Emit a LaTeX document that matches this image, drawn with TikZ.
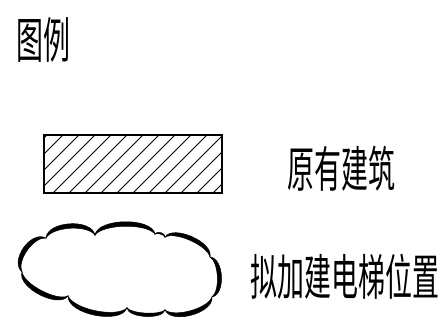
\documentclass[tikz,border=0pt]{standalone}
\usepackage{fontspec}
\newfontfamily\cjk[FakeStretch=0.55]{Noto Sans CJK SC}
\usetikzlibrary{calc}
\newcommand\cloudarc[4]{%
  \fill[cloudink] (#1) .. controls ($(#1)!0.05!(#2)!#3!90:(#2)$) and ($(#1)!0.95!(#2)!#3!90:(#2)$) .. (#2)
    .. controls ($(#1)!0.85!(#2)!#4!90:(#2)$) and ($(#1)!0.15!(#2)!#4!90:(#2)$) .. (#1) -- cycle;}
\tikzset{
  label/.style={font=\cjk\fontsize{49}{49}\selectfont, inner sep=0pt, anchor=center},
  frame/.style={draw=black, line width=1.6pt},
  hatch/.style={draw=black, line width=0.9pt},
  cloudink/.style={black, draw=black, line width=0.5pt},
}
\begin{document}
\begin{tikzpicture}[x=1pt,y=-1pt]
\useasboundingbox (0,0) rectangle (448,334);
% title
\node[label] (title) at (43.5,39.5) {图例};
% hatched rectangle
\begin{scope}
  \clip (44,135) rectangle (222,193);
  \foreach \k in {0,...,15} {
    \draw[hatch] ({182+16*\k-135},135) -- ({182+16*\k-193},193);
  }
\end{scope}
\node[frame, minimum width=178pt, minimum height=58pt, inner sep=0pt] (exist) at (133,164) {};
\node[label] (existtext) at (341.5,169) {原有建筑};
% cloud
\coordinate (A) at (22,272);
\coordinate (B) at (46,238);
\coordinate (C) at (95,235);
\coordinate (D) at (155,234);
\coordinate (E) at (165,237);
\coordinate (F) at (210,257);
\coordinate (G) at (212,297);
\coordinate (H) at (165,310);
\coordinate (I) at (127,308);
\coordinate (J) at (68,296);
\cloudarc{A}{B}{17pt}{11pt}
\cloudarc{B}{C}{17pt}{11pt}
\cloudarc{C}{D}{17pt}{11pt}
\cloudarc{D}{E}{4pt}{2pt}
\cloudarc{E}{F}{15pt}{9.5pt}
\cloudarc{F}{G}{14pt}{8.5pt}
\cloudarc{G}{H}{16pt}{10pt}
\cloudarc{H}{I}{10pt}{5.5pt}
\cloudarc{I}{J}{18pt}{12pt}
\cloudarc{J}{A}{16pt}{10pt}
\node[label] (cloudtext) at (345,276.5) {拟加建电梯位置};
\end{tikzpicture}
\end{document}
